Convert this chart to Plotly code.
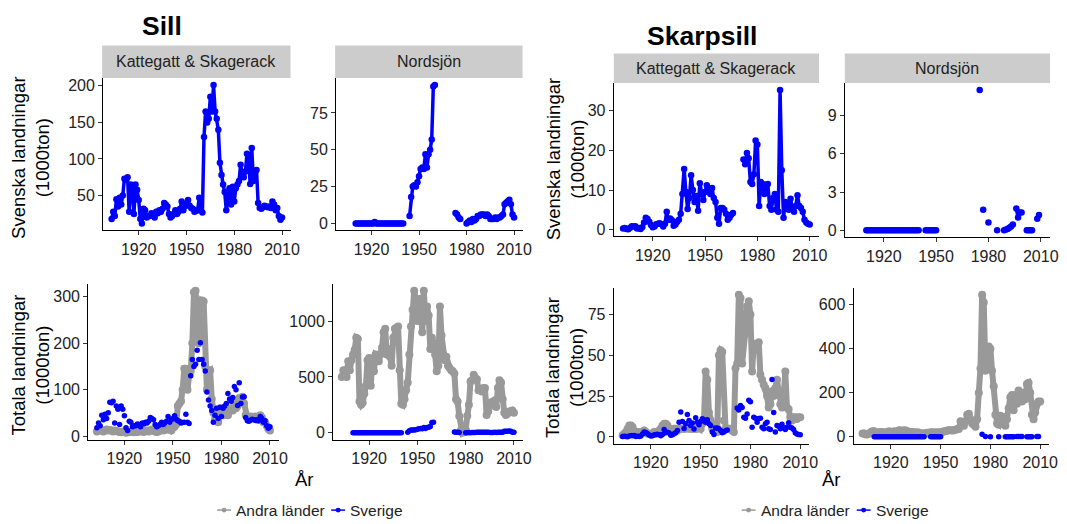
import plotly.graph_objects as go

W, H = 1067, 524
FONT = "Liberation Sans, Arial, sans-serif"
BLUE = "#0000FF"
GREY = "#999999"
STRIP = "#CCCCCC"
TEXT = "#222222"

years = list(range(1903, 2011))
N = None

# ---------------- Sill (herring) ----------------
# Swedish landings, Kattegatt & Skagerack (1000 ton)
sill_kat_sverige = [
    18, 28, 22, 45, 35, 47, 38,                      # 1903-1909
    50, 73, 72, 75, 28, 65, 58, 25, 65, 58,          # 1910-1919
    44, 18, 12, 32, 30, 20, 22, 22, 26, 25,          # 1920-1929
    20, 28, 26, 30, 28, 32, 40, 38, 35, 25,          # 1930-1939
    20, 22, 25, 30, 25, 28, 32, 42, 30, 35,          # 1940-1949
    38, 44, 36, 33, 32, 28, 29, 30, 47, 30,          # 1950-1959
    27, 130, 165, 150, 155, 185, 165, 201, 165, 155, # 1960-1969
    140, 95, 78, 65, 55, 30, 45, 60, 38, 62,         # 1970-1979
    42, 60, 65, 70, 92, 80, 75, 83, 107, 100,        # 1980-1989
    66, 115, 70, 84, 85, 40, 33, 32, 34, 36,         # 1990-1999
    35, 34, 35, 33, 42, 38, 30, 33, 22, 17,          # 2000-2009
    20,                                              # 2010
]
# Other countries, Kattegatt & Skagerack
sill_kat_andra = [
    10, 12, 14, 12, 10, 12, 14,
    12, 13, 12, 10, 12, 11, 10, 9, 8, 10,
    9, 7, 8, 9, 10, 9, 8, 10, 9, 10,
    12, 10, 9, 11, 12, 10, 12, 14, 12, 10,
    9, 10, 12, 14, 12, 13, 15, 14, 16, 12,
    18, 20, 25, 65, 70, 75, 100, 145, 145, 100,
    130, 140, 200, 310, 313, 250, 200, 210, 292, 290,
    150, 100, 140, 142, 80, 50, 35, 40, 30, 52,
    60, 45, 50, 55, 45, 55, 60, 55, 72, 60,
    65, 82, 75, 85, 70, 45, 40, 38, 42, 40,
    40, 42, 35, 35, 45, 40, 30, 30, 22, 15,
    12,
]
# Swedish landings, Nordsjön
sill_nord_sverige = [
    N, N, N, N, N, N, N,
    0, 0, 0, 0, 0, 0, 0, 0, 0, 0,
    0, 0, 1, 0, 0, 0, 0, 0, 0, 0,
    0, 0, 0, 0, 0, 0, 0, 0, 0, 0,
    0, N, N, N, 5, 18, 25, 26, 25, 28,
    32, 37, 38, 37, 47, 38, 47, 50, 57, 93,
    94, N, N, N, N, N, N, N, N, N,
    N, N, N, 7, 6, 4, 3, N, N, N,
    0, 1, 2, 1, 3, 2, 3, 5, 5, 6,
    6, 6, 5, 6, 5, 3, 3, 3, 4, 3,
    4, 4, 5, 6, 13, 14, 15, 16, 13, 6,
    4,
]
# Other countries, Nordsjön
sill_nord_andra = [
    500, 560, 560, 500, 640, 560, 650,
    700, 740, 850, 840, 280, 250, 270, 350, 420, 650,
    670, 420, 640, 550, 700, 690, 640, 700, 760, 900,
    930, 700, 750, 680, 600, 850, 930, 940, 950, 560,
    260, 250, 300, 380, 450, 700, 950, 1100, 1270, 1200,
    1000, 1180, 1200, 900, 1270, 1000, 1130, 1050, 750, 850,
    800, 700, 550, 600, 1130, 870, 700, 650, 680, 600,
    580, 560, 550, 530, 300, 280, 150, 20, 0, 10,
    30, 150, 250, 460, 470, 520, 490, 480, 380, 380,
    370, 400, 400, 160, 190, 270, 260, 280, 240, 230,
    400, 470, 450, 300, 180, 160, 170, 190, 190, 200,
    180,
]

# ---------------- Skarpsill (sprat) ----------------
skarp_kat_sverige = [
    0.3, 0.4, 0.2, 0.1, 0.5, 0.9, 0.8,
    0.9, 0.3, 0.4, 0.2, 0.6, 1.8, 3.0, 2.7, 2.0, 1.2,
    0.6, 0.8, 1.4, 1.5, 1.6, 1.4, 0.8, 1.5, 4.5, 2.5,
    2.8, 2.4, 1.0, 1.3, 2.0, 2.5, 4.0, 9.0, 15.3, 9.5,
    5.2, 8.0, 13.7, 10.0, 7.0, 8.5, 4.8, 11.7, 9.0, 7.5,
    9.5, 11.2, 10.5, 9.0, 10.5, 8.0, 7.0, 3.0, 1.5, 5.5,
    5.5, 5.0, 4.0, 2.5, 3.0, 3.8, 4.2, N, N, N,
    N, N, 17.7, 16.5, 19.3, 18.0, 12.0, 11.5, 14.0, 22.5,
    21.5, 6.0, 12.0, 11.5, 9.0, 11.3, 11.5, 6.0, 5.0, 8.0,
    9.0, 5.0, 4.5, 35.2, 15.0, 3.0, 7.0, 6.5, 5.0, 7.8,
    5.5, 4.5, 6.0, 8.7, 6.0, 5.5, 4.5, 2.5, 1.8, 1.5,
    1.3,
]
skarp_kat_andra = [
    1, 2, 3, 5, 7, 7, 6,
    3, 2, 3, 2, 3, 3, 4, 3, 2, 2,
    2, 2, 3, 2, 3, 4, 5, 7, 8, 8,
    7, 5, 4, 4, 5, 5, 4, 5, 5, 5,
    5, 5, 6, 5, 5, 5, 5, 5, 5, 6,
    5, 8, 10, 40, 35, 15, 10, 5, 4, 3,
    3, 50, 53, 52, 10, 5, 5, 5, 5, 4,
    3, 42, 45, 87, 85, 45, 62, 65, 80, 83,
    75, 40, 57, 55, 57, 58, 38, 35, 32, 30,
    25, 18, 20, 28, 25, 30, 35, 28, 20, 18,
    25, 40, 18, 17, 12, 10, 12, 12, 11, 12,
    12,
]
skarp_nord_sverige = [
    N, N, N, N, N, N, N,
    0, 0, 0, 0, 0, 0, 0, 0, 0, 0,
    0, 0, 0, 0, 0, 0, 0, 0, 0, 0,
    0, 0, 0, 0, 0, 0, 0, 0, 0, 0,
    0, N, N, N, 0, 0, 0, 0, 0, 0,
    0, N, N, N, N, N, N, N, N, N,
    N, N, N, N, N, N, N, N, N, N,
    N, N, N, N, N, 11.0, N, 1.6, N, N,
    0.6, N, N, N, N, 0.0, N, N, N, 0.0,
    0.05, 0.1, 0.2, 0.3, 0.45, N, 1.7, 1.0, 1.4, 1.4,
    N, N, 0.0, 0.0, 0.0, 0.0, N, N, 0.9, 1.2,
    N,
]
skarp_nord_andra = [
    15, 15, 10, 12, 15, 20, 25,
    25, 20, 18, 20, 22, 20, 18, 20, 22, 25,
    22, 20, 25, 22, 25, 30, 28, 25, 30, 28,
    25, 22, 20, 22, 20, 18, 20, 18, 15, 15,
    15, 15, 18, 15, 20, 20, 18, 20, 18, 20,
    20, 22, 25, 25, 28, 30, 30, 28, 30, 32,
    35, 35, 70, 60, 50, 70, 100, 105, 80, 60,
    55, 45, 80, 200, 310, 645, 610, 300, 310, 410,
    400, 300, 230, 100, 60, 55, 95, 60, 90, 50,
    80, 130, 180, 190, 120, 190, 150, 210, 200, 160,
    200, 170, 240, 245, 200, 100, 80, 110, 150, 160,
    160,
]

for s in (sill_kat_sverige, sill_kat_andra, sill_nord_sverige, sill_nord_andra,
          skarp_kat_sverige, skarp_kat_andra, skarp_nord_sverige, skarp_nord_andra):
    assert len(s) == len(years), len(s)

x_ticks = [1920, 1950, 1980, 2010]
legend_labels = ["Andra länder", "Sverige"]

# Panel geometry in pixels: (x0, x1, y0_top, y1_bottom)
panels = [
    dict(sverige=sill_kat_sverige, andra=None, box=(104, 293, 78, 232), yticks=[50, 100, 150, 200]),
    dict(sverige=sill_nord_sverige, andra=None, box=(339, 527, 78, 232), yticks=[0, 25, 50, 75]),
    dict(sverige=sill_kat_sverige, andra=sill_kat_andra, box=(89, 281, 286, 444), yticks=[0, 100, 200, 300]),
    dict(sverige=sill_nord_sverige, andra=sill_nord_andra, box=(336, 527, 286, 444), yticks=[0, 500, 1000]),
    dict(sverige=skarp_kat_sverige, andra=None, box=(619, 826, 83, 238), yticks=[0, 10, 20, 30]),
    dict(sverige=skarp_nord_sverige, andra=None, box=(852, 1059, 83, 239), yticks=[0, 3, 6, 9]),
    dict(sverige=skarp_kat_sverige, andra=skarp_kat_andra, box=(619, 816, 290, 448), yticks=[0, 25, 50, 75]),
    dict(sverige=skarp_nord_sverige, andra=skarp_nord_andra, box=(861, 1058, 290, 448), yticks=[0, 200, 400, 600]),
]


def padded(*series):
    vals = [v for s in series if s is not None for v in s if v is not None]
    lo, hi = min(vals), max(vals)
    span = hi - lo
    return [lo - 0.05 * span, hi + 0.05 * span]


xr = padded(years)
fig = go.Figure()
layout = {}

for i, p in enumerate(panels, start=1):
    xa, ya = f"x{i}", f"y{i}"
    x0, x1, yt, yb = p["box"]
    axis_common = dict(
        showline=True, linecolor="black", linewidth=1.1, mirror=False,
        ticks="outside", ticklen=4, tickwidth=1, tickcolor="#333333",
        showgrid=False, zeroline=False, fixedrange=True,
        tickfont=dict(family=FONT, size=16, color=TEXT),
    )
    layout[f"xaxis{i}"] = dict(
        axis_common, domain=[x0 / W, x1 / W], anchor=ya, range=xr,
        tickvals=x_ticks,
    )
    layout[f"yaxis{i}"] = dict(
        axis_common, domain=[1 - yb / H, 1 - yt / H], anchor=xa,
        range=padded(p["sverige"], p["andra"]), tickvals=p["yticks"],
    )
    if p["andra"] is None:
        fig.add_trace(go.Scatter(
            x=years, y=p["sverige"], xaxis=xa, yaxis=ya, mode="lines+markers",
            line=dict(color=BLUE, width=3.5), marker=dict(color=BLUE, size=6.5),
            connectgaps=False, showlegend=False, hoverinfo="skip",
        ))
    else:
        fig.add_trace(go.Scatter(
            x=years, y=p["andra"], xaxis=xa, yaxis=ya, mode="lines+markers",
            line=dict(color=GREY, width=6), marker=dict(color=GREY, size=8),
            connectgaps=False, showlegend=False, hoverinfo="skip",
        ))
        fig.add_trace(go.Scatter(
            x=years, y=p["sverige"], xaxis=xa, yaxis=ya, mode="markers",
            marker=dict(color=BLUE, size=5.5), showlegend=False, hoverinfo="skip",
        ))

shapes = []
annotations = []

# Facet strips
strips = [
    ("Kattegatt & Skagerack", 103, 293, 45, 78),
    ("Nordsjön", 338, 527, 45, 78),
    ("Kattegatt & Skagerack", 619, 826, 53, 83),
    ("Nordsjön", 852, 1059, 53, 83),
]
for label, sx0, sx1, sy0, sy1 in strips:
    shapes.append(dict(type="rect", xref="paper", yref="paper",
                       x0=sx0 / W, x1=sx1 / W, y0=1 - sy1 / H, y1=1 - sy0 / H,
                       fillcolor=STRIP, line=dict(width=0), layer="below"))
    annotations.append(dict(text=label, xref="paper", yref="paper",
                            x=(sx0 + sx1) / 2 / W, y=1 - (sy0 + sy1) / 2 / H,
                            xanchor="center", yanchor="middle", showarrow=False,
                            font=dict(family=FONT, size=16, color=TEXT)))

# Block titles
for label, tx, ty in (("Sill", 163, 25), ("Skarpsill", 708, 35)):
    annotations.append(dict(text=f"<b>{label}</b>", xref="paper", yref="paper",
                            x=tx / W, y=1 - ty / H, xanchor="center", yanchor="middle",
                            showarrow=False, font=dict(family=FONT, size=26.5, color="black")))

# Y axis titles
for label, tx, ty in (
    ("Svenska landningar<br>(1000ton)", 30, 158),
    ("Totala landningar<br>(1000ton)", 31, 368),
    ("Svenska landningar<br>(1000ton)", 570, 160),
    ("Totala landningar<br>(1000ton)", 570, 371),
):
    annotations.append(dict(text=label, xref="paper", yref="paper",
                            x=tx / W, y=1 - ty / H, xanchor="center", yanchor="middle",
                            textangle=-90, showarrow=False, align="center",
                            font=dict(family=FONT, size=18.5, color="black")))

# X axis titles
for tx in (307, 839):
    annotations.append(dict(text="År", xref="paper", yref="paper",
                            x=tx / W, y=1 - 484 / H, xanchor="center", yanchor="middle",
                            showarrow=False, font=dict(family=FONT, size=18.5, color="black")))

# Legend keys below each block: (line start px, text start px) per entry
legend_rows = [
    [(219, 236), (334, 351)],
    [(748, 765), (864, 881)],
]
LEG_Y = 515
for row in legend_rows:
    for (gx, tx), label, col in zip(row, legend_labels, (GREY, BLUE)):
        shapes.append(dict(type="line", xref="paper", yref="paper",
                           x0=gx / W, x1=(gx + 14) / W, y0=1 - LEG_Y / H, y1=1 - LEG_Y / H,
                           line=dict(color=col, width=1.5)))
        shapes.append(dict(type="circle", xref="paper", yref="paper",
                           x0=(gx + 4.5) / W, x1=(gx + 9.5) / W,
                           y0=1 - (LEG_Y + 2.5) / H, y1=1 - (LEG_Y - 2.5) / H,
                           fillcolor=col, line=dict(width=0)))
        annotations.append(dict(text=label, xref="paper", yref="paper",
                                x=tx / W, y=1 - LEG_Y / H, xanchor="left", yanchor="middle",
                                showarrow=False, font=dict(family=FONT, size=15.5, color=TEXT)))

fig.update_layout(
    width=W, height=H, margin=dict(l=0, r=0, t=0, b=0),
    paper_bgcolor="white", plot_bgcolor="white",
    font=dict(family=FONT), showlegend=False,
    shapes=shapes, annotations=annotations,
    **layout,
)

fig.write_html("out.html")
